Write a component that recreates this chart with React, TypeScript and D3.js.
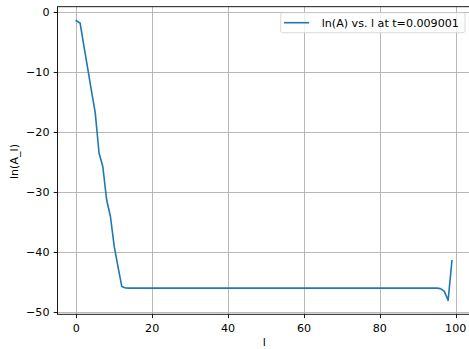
import React from "react";
import * as d3 from "d3";

const W = 469;
const H = 349;

const xTicks = [0, 20, 40, 60, 80, 100];
const yTicks = [-50, -40, -30, -20, -10, 0];

const lnA: number[] = [
  -1.39, -1.77, -5.6, -9.3, -13.1, -16.8, -23.5, -25.8, -31.3, -34.1,
  -39.1, -42.5, -45.8, -46.05, -46.07, -46.07, -46.07, -46.07, -46.07, -46.07,
  -46.07, -46.07, -46.07, -46.07, -46.07, -46.07, -46.07, -46.07, -46.07, -46.07,
  -46.07, -46.07, -46.07, -46.07, -46.07, -46.07, -46.07, -46.07, -46.07, -46.07,
  -46.07, -46.07, -46.07, -46.07, -46.07, -46.07, -46.07, -46.07, -46.07, -46.07,
  -46.07, -46.07, -46.07, -46.07, -46.07, -46.07, -46.07, -46.07, -46.07, -46.07,
  -46.07, -46.07, -46.07, -46.07, -46.07, -46.07, -46.07, -46.07, -46.07, -46.07,
  -46.07, -46.07, -46.07, -46.07, -46.07, -46.07, -46.07, -46.07, -46.07, -46.07,
  -46.07, -46.07, -46.07, -46.07, -46.07, -46.07, -46.07, -46.07, -46.07, -46.07,
  -46.07, -46.07, -46.07, -46.07, -46.07, -46.07, -46.15, -46.6, -48.1, -41.5,
];

const legendLabel = "ln(A) vs. l at t=0.009001";
const xLabel = "l";
const yLabel = "ln(A_l)";

const FONT = "DejaVu Sans, sans-serif";
const FS = 11.1;

export default function App() {
  const left = 57.5;
  const right = 470.7;
  const top = 6.7;
  const bottom = 314.3;

  const n = lnA.length;
  const xPad = (n - 1) * 0.05;
  const x = d3.scaleLinear().domain([0 - xPad, n - 1 + xPad]).range([left, right]);
  const yMin = d3.min(lnA) as number;
  const yMax = d3.max(lnA) as number;
  const yPad = (yMax - yMin) * 0.05;
  const y = d3.scaleLinear().domain([yMin - yPad, yMax + yPad]).range([bottom, top]);

  const line = d3
    .line<number>()
    .x((_, i) => x(i))
    .y((d) => y(d));

  const fmt = (v: number) => (v < 0 ? "\u2212" + Math.abs(v) : String(v));
  const snap = (v: number) => Math.round(v) + 0.5;

  return (
    <svg
      width={W}
      height={H}
      style={{ position: "absolute", left: 0, top: 0, background: "white" }}
      fontFamily={FONT}
    >
      <rect x={0} y={0} width={W} height={H} fill="white" />
      <defs>
        <clipPath id="plotclip">
          <rect x={left} y={top} width={right - left} height={bottom - top} />
        </clipPath>
      </defs>
      {/* grid */}
      {xTicks.map((t) => (
        <line key={"gx" + t} x1={snap(x(t))} x2={snap(x(t))} y1={top} y2={bottom} stroke="#b0b0b0" strokeWidth={0.9} />
      ))}
      {yTicks.map((t) => (
        <line key={"gy" + t} x1={left} x2={right} y1={snap(y(t))} y2={snap(y(t))} stroke="#b0b0b0" strokeWidth={0.9} />
      ))}
      {/* data line */}
      <path
        d={line(lnA) || ""}
        fill="none"
        stroke="#1f77b4"
        strokeWidth={1.6}
        strokeLinejoin="round"
        strokeLinecap="square"
        clipPath="url(#plotclip)"
      />
      {/* spines */}
      <rect x={left} y={top} width={right - left} height={bottom - top} fill="none" stroke="black" strokeWidth={0.9} />
      {/* x ticks */}
      {xTicks.map((t) => (
        <g key={"xt" + t}>
          <line x1={snap(x(t))} x2={snap(x(t))} y1={bottom} y2={bottom + 3.8} stroke="black" strokeWidth={0.9} />
          <text x={x(t)} y={332.3} textAnchor="middle" fontSize={FS} fill="black">
            {fmt(t)}
          </text>
        </g>
      ))}
      {/* y ticks */}
      {yTicks.map((t) => (
        <g key={"yt" + t}>
          <line x1={left - 3.8} x2={left} y1={snap(y(t))} y2={snap(y(t))} stroke="black" strokeWidth={0.9} />
          <text x={49.5} y={y(t) + 4.0} textAnchor="end" fontSize={FS} fill="black">
            {fmt(t)}
          </text>
        </g>
      ))}
      {/* axis labels */}
      <text x={264.3} y={346.2} textAnchor="middle" fontSize={FS} fill="black">
        {xLabel}
      </text>
      <text
        transform={`translate(18.3, 161.5) rotate(-90)`}
        textAnchor="middle"
        fontSize={FS}
        fill="black"
      >
        {yLabel}
      </text>
      {/* legend */}
      <rect x={280.7} y={12.7} width={184.3} height={20} rx={2} fill="white" fillOpacity={0.8} stroke="#cccccc" strokeOpacity={0.8} strokeWidth={0.9} />
      <line x1={284} x2={309} y1={22.7} y2={22.7} stroke="#1f77b4" strokeWidth={1.6} />
      <text x={321.7} y={26.7} fontSize={FS} fill="black">
        {legendLabel}
      </text>
    </svg>
  );
}
